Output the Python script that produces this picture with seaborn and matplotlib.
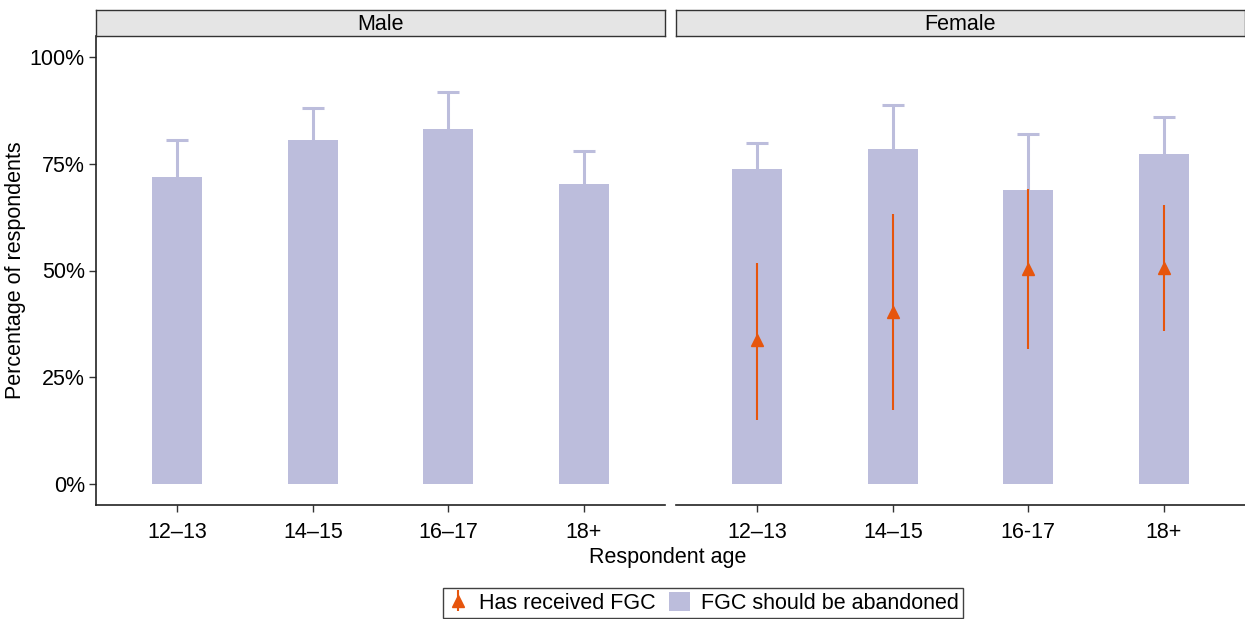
import numpy as np
import pandas as pd
import matplotlib
matplotlib.use('Agg')
import matplotlib.pyplot as plt
import seaborn as sns
from matplotlib.patches import Patch

sns.set_style('white')
plt.rcParams['font.family'] = ['Liberation Sans', 'DejaVu Sans']
plt.rcParams['text.color'] = 'black'
plt.rcParams['xtick.color'] = '#333333'
plt.rcParams['ytick.color'] = '#333333'
plt.rcParams['xtick.labelcolor'] = 'black'
plt.rcParams['ytick.labelcolor'] = 'black'
plt.rcParams['axes.labelcolor'] = 'black'

# ---------------------------------------------------------
# data
# ---------------------------------------------------------
male_ages = ['12–13', '14–15', '16–17', '18+']
female_ages = ['12–13', '14–15', '16-17', '18+']

male_abandon = [72.0, 80.7, 83.2, 70.4]
male_abandon_hi = [80.7, 88.1, 91.8, 78.1]

female_abandon = [73.9, 78.6, 68.8, 77.4]
female_abandon_hi = [80.0, 88.8, 82.0, 86.0]

female_fgc = [33.6, 40.3, 50.3, 50.6]
female_fgc_lo = [14.9, 17.2, 31.7, 35.7]
female_fgc_hi = [51.7, 63.2, 69.0, 65.3]

BAR = '#bcbddc'
ORANGE = '#e6550d'
FS = 15.5

W, H = 1245, 619
fig = plt.figure(figsize=(W / 100, H / 100), dpi=100)

def box(x0, x1, y0, y1):
    return [x0 / W, 1 - y1 / H, (x1 - x0) / W, (y1 - y0) / H]

panels = [
    ('Male', male_ages, male_abandon, male_abandon_hi, None, box(96, 665, 36, 505)),
    ('Female', female_ages, female_abandon, female_abandon_hi,
     (female_fgc, female_fgc_lo, female_fgc_hi), box(676, 1245, 36, 505)),
]

fgc_handle = None
for i, (title, ages, ab, ab_hi, fgc, rect) in enumerate(panels):
    ax = fig.add_axes(rect)
    df = pd.DataFrame({'age': ages, 'pct': ab})
    pos = np.arange(len(ages))
    ab = np.array(ab)
    # whisker for bars, lower half hidden behind the bar
    ax.errorbar(pos, ab, yerr=[ab - 3, np.array(ab_hi) - ab],
                fmt='none', ecolor=BAR, elinewidth=2.2, capsize=8, capthick=2.2, zorder=1)
    sns.barplot(data=df, x='age', y='pct', color=BAR, saturation=1, width=0.37,
                errorbar=None, ax=ax, zorder=2, edgecolor='none')
    if fgc is not None:
        m, lo, hi = [np.array(v) for v in fgc]
        fgc_handle = ax.errorbar(pos, m, yerr=[m - lo, hi - m], fmt='^', color=ORANGE,
                                 ecolor=ORANGE, elinewidth=1.5, markersize=8, capsize=0,
                                 zorder=3)
    ax.set_xlim(-0.6, len(ages) - 0.4)
    ax.set_ylim(-5, 105)
    ax.set_xlabel('')
    ax.set_ylabel('')
    for s in ['top', 'right']:
        ax.spines[s].set_visible(False)
    ax.spines['bottom'].set_color('#222222')
    ax.spines['bottom'].set_linewidth(1.2)
    ax.tick_params(axis='x', length=5, width=1, labelsize=FS, bottom=True, pad=7)
    if i == 0:
        ax.spines['left'].set_color('#222222')
        ax.spines['left'].set_linewidth(1.2)
        ax.set_yticks([0, 25, 50, 75, 100])
        ax.set_yticklabels(['0%', '25%', '50%', '75%', '100%'])
        ax.tick_params(axis='y', length=5, width=1, labelsize=FS, left=True, pad=3)
        ax.set_ylabel('Percentage of respondents', fontsize=FS, labelpad=3)
    else:
        ax.spines['left'].set_visible(False)
        ax.set_yticks([])

    # facet strip
    sx = fig.add_axes([rect[0], 1 - 36 / H, rect[2], 26 / H])
    sx.set_facecolor('#e5e5e5')
    sx.set_xticks([])
    sx.set_yticks([])
    for s in sx.spines.values():
        s.set_color('#333333')
        s.set_linewidth(1)
    sx.text(0.5, 0.45, title, ha='center', va='center', fontsize=FS,
            transform=sx.transAxes)

fig.text(668 / W, 1 - 558 / H, 'Respondent age', ha='center', va='center', fontsize=FS)

handles = [fgc_handle, Patch(facecolor=BAR, edgecolor='none')]
leg = fig.legend(handles, ['Has received FGC', 'FGC should be abandoned'],
                 loc='center', bbox_to_anchor=(703 / W, 1 - 603 / H), ncol=2,
                 frameon=True, fontsize=FS, handlelength=1.0, handleheight=1.0,
                 handletextpad=0.5, columnspacing=0.6, borderpad=0.2, fancybox=False)
leg.get_frame().set_edgecolor('#111111')
leg.get_frame().set_linewidth(1)

fig.savefig('out.png', dpi=100)
